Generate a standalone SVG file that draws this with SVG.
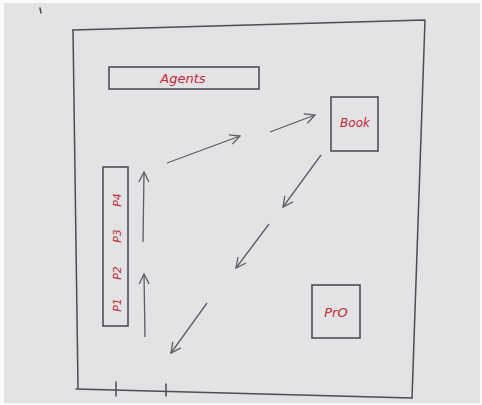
<svg xmlns="http://www.w3.org/2000/svg" width="482" height="405" viewBox="0 0 482 405">
<style>
.ln{fill:none;stroke:#4e4e52;stroke-width:1.5;stroke-linecap:round;stroke-linejoin:round}
.box{fill:none;stroke:#4e4f53;stroke-width:1.6}
.lbl{font-family:"DejaVu Sans",sans-serif;font-style:italic;fill:#c4283a;text-anchor:middle;dominant-baseline:central}
.arr{fill:none;stroke:#5e5e62;stroke-width:1.3;marker-end:url(#head)}
</style>
<defs>
<marker id="head" viewBox="0 0 12 12" refX="11" refY="6" markerWidth="12" markerHeight="12" markerUnits="userSpaceOnUse" orient="auto">
<path d="M1,1 L11,6 L1,11" fill="none" stroke="#5e5e62" stroke-width="1.3"/>
</marker>
</defs>
<rect x="0" y="0" width="482" height="405" fill="#fafafa"/>
<rect x="4" y="3" width="476" height="400" fill="#e3e3e5"/>
<g id="frame">
<path class="ln" d="M73,30 L425,20 L412,398"/>
<path class="ln" d="M73,30 L78,388"/>
<path class="ln" d="M76,389 L412,398"/>
<path class="ln" d="M116,382 L116,396 M166,384 L166,396"/>
<path class="ln" d="M40,8 L41,13" stroke-width="1"/>
</g>
<g id="agents">
<rect class="box" x="109" y="67" width="150" height="22"/>
<text class="lbl" x="183" y="78" font-size="13">Agents</text>
</g>
<g id="book">
<rect class="box" x="331" y="97" width="47" height="54"/>
<text class="lbl" x="355" y="123" font-size="12">Book</text>
</g>
<g id="pro">
<rect class="box" x="312" y="285" width="48" height="53"/>
<text class="lbl" x="336" y="312" font-size="13">PrO</text>
</g>
<g id="plist">
<rect class="box" x="103" y="167" width="25" height="159"/>
<text class="lbl" font-size="11" transform="translate(117,305) rotate(-90)">P1</text>
<text class="lbl" font-size="11" transform="translate(117,273) rotate(-90)">P2</text>
<text class="lbl" font-size="11" transform="translate(117,236) rotate(-90)">P3</text>
<text class="lbl" font-size="11" transform="translate(117,200) rotate(-90)">P4</text>
</g>
<g id="connectors">
<line class="arr" x1="145" y1="337" x2="144" y2="274"/>
<line class="arr" x1="143" y1="242" x2="144" y2="172"/>
<line class="arr" x1="167" y1="163" x2="240" y2="136"/>
<line class="arr" x1="270" y1="132" x2="315" y2="115"/>
<line class="arr" x1="321" y1="155" x2="283" y2="207"/>
<line class="arr" x1="269" y1="224" x2="236" y2="268"/>
<line class="arr" x1="207" y1="303" x2="171" y2="353"/>
</g>
</svg>
